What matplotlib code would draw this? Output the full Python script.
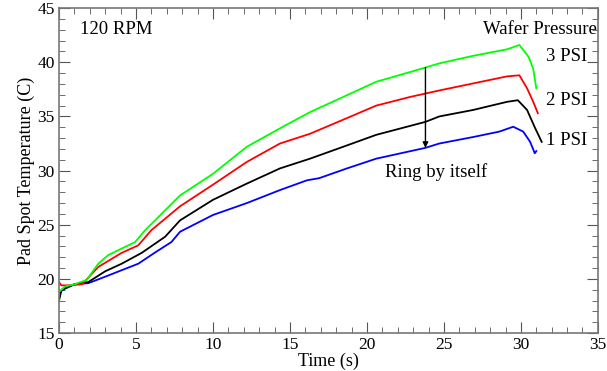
import matplotlib
matplotlib.use("Agg")
import matplotlib.pyplot as plt
from matplotlib.ticker import MultipleLocator

plt.rcParams['font.family'] = ['Liberation Serif', 'DejaVu Serif']

# values (time s, temperature C)
t_3psi = [0.0, 0.4, 1.0, 1.8, 2.55, 3.2, 4.07, 4.94, 5.6, 7.86, 10.0, 12.2, 14.35,
          16.3, 18.46, 20.6, 22.8, 24.7, 26.9, 29.1, 29.9, 30.5, 30.8, 31.0]
T_3psi = [18.8, 19.3, 19.5, 19.9, 21.4, 22.2, 22.8, 23.4, 24.5, 27.7, 29.7, 32.2, 33.9,
          35.4, 36.8, 38.2, 39.1, 39.9, 40.6, 41.2, 41.6, 40.5, 39.4, 37.6]

t_2psi = [0.0, 0.15, 0.6, 1.5, 2.55, 4.07, 5.15, 6.0, 7.86, 10.0, 12.2, 14.35,
          16.3, 18.46, 20.6, 22.8, 24.7, 26.9, 29.1, 29.9, 30.4, 30.8, 31.1]
T_2psi = [19.7, 19.4, 19.4, 19.5, 21.1, 22.4, 23.1, 24.5, 26.7, 28.7, 30.8, 32.5,
          33.4, 34.7, 36.0, 36.8, 37.4, 38.05, 38.7, 38.8, 37.6, 36.35, 35.3]

t_1psi = [0.0, 0.17, 1.0, 1.9, 3.0, 4.07, 5.37, 6.9, 7.86, 10.0, 12.2, 14.35,
          16.3, 18.46, 20.6, 23.8, 24.7, 26.9, 29.1, 29.8, 30.4, 30.9, 31.35]
T_1psi = [18.0, 19.0, 19.5, 19.7, 20.7, 21.4, 22.4, 23.9, 25.4, 27.3, 28.8, 30.2,
          31.1, 32.2, 33.3, 34.5, 35.0, 35.6, 36.35, 36.5, 35.6, 34.0, 32.65]

t_ring = [0.05, 0.4, 1.0, 1.9, 3.0, 4.07, 5.15, 6.2, 7.3, 7.86, 10.0, 12.2, 14.35,
          16.1, 16.9, 18.7, 20.6, 23.8, 24.7, 26.9, 28.6, 29.5, 30.15, 30.6, 30.9, 31.0]
T_ring = [18.8, 19.1, 19.5, 19.6, 20.2, 20.8, 21.4, 22.4, 23.4, 24.35, 25.9, 27.0, 28.2,
          29.1, 29.3, 30.2, 31.1, 32.1, 32.5, 33.1, 33.6, 34.05, 33.6, 32.65, 31.6, 31.8]

fig = plt.figure(figsize=(6.07, 3.71), dpi=100)
ax = fig.add_axes([0.0972, 0.1024, 0.8878, 0.8756])

ax.plot(t_ring, T_ring, color='#0000ff', lw=1.3)
ax.plot(t_1psi, T_1psi, color='black', lw=1.3)
ax.plot(t_2psi, T_2psi, color='#ff0000', lw=1.3)
ax.plot(t_3psi, T_3psi, color='#00ff00', lw=1.3)

ax.set_xlim(0, 35)
ax.set_ylim(15, 45)
ax.xaxis.set_major_locator(MultipleLocator(5))
ax.xaxis.set_minor_locator(MultipleLocator(1))
ax.yaxis.set_major_locator(MultipleLocator(5))
ax.yaxis.set_minor_locator(MultipleLocator(1))
ax.tick_params(which='both', direction='in', top=True, right=True,
               color='#555555', labelsize=12.5)
ax.tick_params(which='major', length=8, pad=3)
ax.tick_params(which='minor', length=4)
for s in ax.spines.values():
    s.set_color('#777777')
    s.set_linewidth(1.2)

ax.set_xlabel('Time (s)', fontsize=13, labelpad=0)
ax.set_ylabel('Pad Spot Temperature (C)', fontsize=13, labelpad=2)

ax.text(1.36, 43.0, '120 RPM', fontsize=13.5, va='center')
ax.text(34.95, 43.05, 'Wafer Pressure', fontsize=13.5, ha='right', va='center')
ax.text(34.3, 40.55, '3 PSI', fontsize=13.5, ha='right', va='center')
ax.text(34.3, 36.5, '2 PSI', fontsize=13.5, ha='right', va='center')
ax.text(34.3, 32.8, '1 PSI', fontsize=13.5, ha='right', va='center')
ax.text(24.5, 29.9, 'Ring by itself', fontsize=13.5, ha='center', va='center')

ax.annotate('', xy=(23.8, 32.1), xytext=(23.8, 39.5),
            arrowprops=dict(arrowstyle='-|>', color='black', lw=1.0,
                            mutation_scale=8, shrinkA=0, shrinkB=0))

fig.savefig('out.png', dpi=100)
